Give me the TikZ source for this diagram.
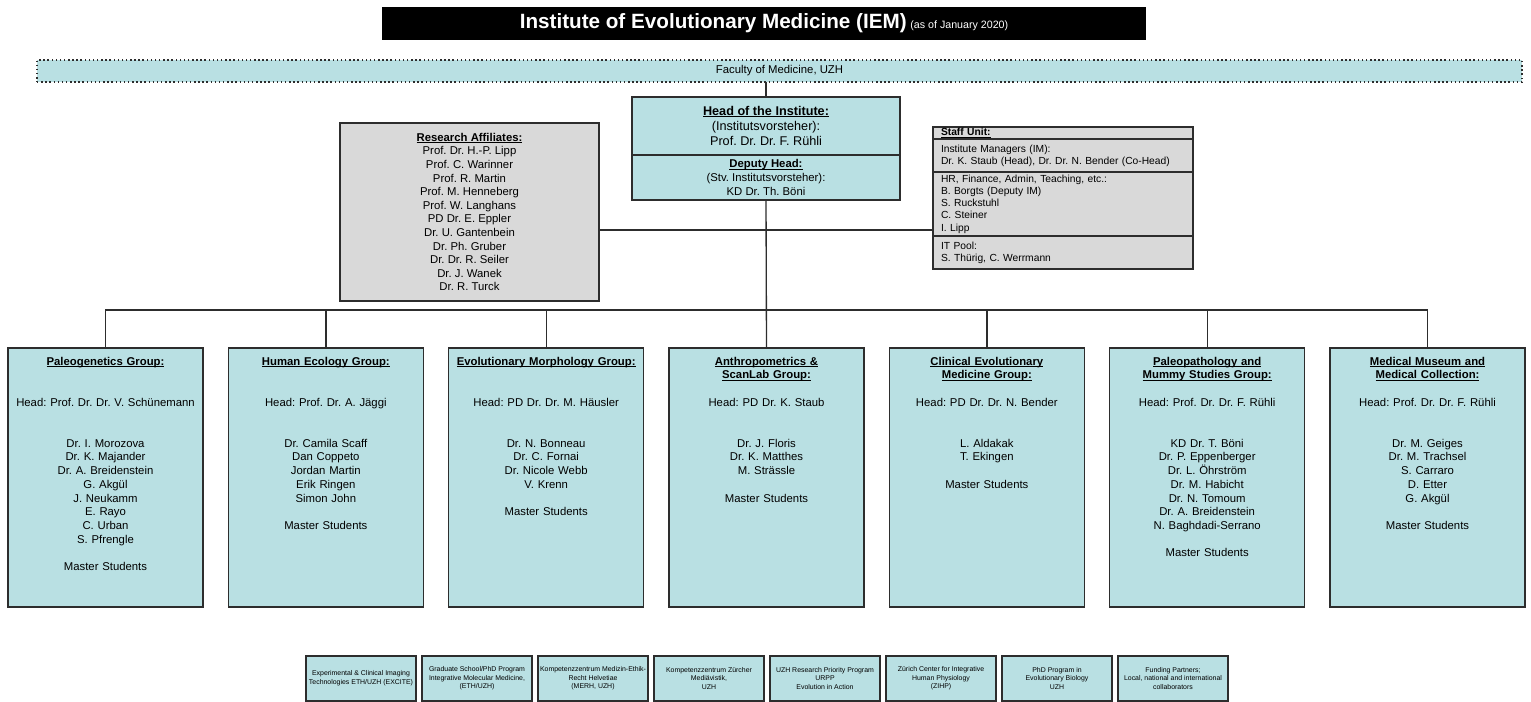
\documentclass[tikz,border=0pt]{standalone}
\usepackage{fontspec}
\setmainfont{Liberation Sans}
\usepackage{xcolor}
\usetikzlibrary{positioning}
\definecolor{iemteal}{RGB}{185,224,227}
\definecolor{iemgray}{RGB}{217,217,217}
\definecolor{iemline}{RGB}{45,45,45}
\newcommand{\grouptitle}[1]{\textbf{\sbox0{#1}\rlap{\rule[-1.2pt]{\wd0}{0.55pt}}\usebox0}}
\frenchspacing

\begin{document}
\begin{tikzpicture}[
    x=0.75pt, y=-0.75pt,
    orgbox/.style={rectangle, draw=iemline, line width=1.1pt, fill=iemteal, inner sep=0pt, outer sep=0pt, align=center},
    grpbox/.style={orgbox, anchor=north west, text width=146.25pt, text height=12.75pt, text depth=181.5pt, font=\fontsize{8.5}{10.28}\selectfont},
    partnerbox/.style={orgbox, line width=0.9pt, minimum width=82.5pt, minimum height=33.75pt, font=\fontsize{5.2}{6.5}\selectfont},
    staffbox/.style={orgbox, fill=iemgray, text width=183pt, inner xsep=6pt, align=left, minimum height=#1, font=\fontsize{7.7}{9.2}\selectfont},
    link/.style={draw=iemline, line width=1pt}
]
\useasboundingbox (0,0) rectangle (1531,702);

\node[fill=black, text=white, minimum width=573pt, minimum height=24.75pt, inner sep=0pt] (title) at (764,23.5)
    {{\fontsize{15.5}{18}\selectfont\bfseries Institute of Evolutionary Medicine (IEM)} {\fontsize{8}{9}\selectfont (as of January 2020)}};
\node[orgbox, dotted, line width=0.9pt, minimum width=1113.75pt, minimum height=16.5pt, font=\fontsize{8.5}{10}\selectfont] (faculty) at (779.5,71) {Faculty of Medicine, UZH};

\node[orgbox, minimum width=201pt, minimum height=43.5pt, font=\fontsize{9.5}{11.3}\selectfont] (head) at (766,126)
    {\grouptitle{Head of the Institute:}\\(Institutsvorsteher):\\Prof. Dr. Dr. F. Rühli};
\node[orgbox, below=0pt of head, minimum width=201pt, minimum height=33.75pt, font=\fontsize{8.5}{10.2}\selectfont] (deputy)
    {\grouptitle{Deputy Head:}\\(Stv. Institutsvorsteher):\\KD Dr. Th. Böni};

\node[orgbox, fill=iemgray, minimum width=194.25pt, minimum height=133.5pt, font=\fontsize{8.5}{10.2}\selectfont] (affil) at (469.5,212)
    {\grouptitle{Research Affiliates:}\\Prof. Dr. H.-P. Lipp\\Prof. C. Warinner\\Prof. R. Martin\\Prof. M. Henneberg\\Prof. W. Langhans\\PD Dr. E. Eppler\\Dr. U. Gantenbein\\Dr. Ph. Gruber\\Dr. Dr. R. Seiler\\Dr. J. Wanek\\Dr. R. Turck};

\node[staffbox=9pt] (suhead) at (1063,133) {\grouptitle{Staff Unit:}};
\node[staffbox=24.75pt, below=0pt of suhead] (sumanagers) {Institute Managers (IM):\\Dr. K. Staub (Head), Dr. Dr. N. Bender (Co-Head)};
\node[staffbox=48pt, below=0pt of sumanagers] (suadmin) {HR, Finance, Admin, Teaching, etc.:\\B. Borgts (Deputy IM)\\S. Ruckstuhl\\C. Steiner\\I. Lipp};
\node[staffbox=24.75pt, below=0pt of suadmin] (suit) {IT Pool:\\S. Thürig, C. Werrmann};

\node[grpbox] (paleogen) at (8,348)
    {\grouptitle{Paleogenetics Group:}\\[2\baselineskip]Head: Prof. Dr. Dr. V. Schünemann\\[2\baselineskip]Dr. I. Morozova\\Dr. K. Majander\\Dr. A. Breidenstein\\G. Akgül\\J. Neukamm\\E. Rayo\\C. Urban\\S. Pfrengle\\[\baselineskip]Master Students};
\node[grpbox, right=19pt of paleogen] (humaneco)
    {\grouptitle{Human Ecology Group:}\\[2\baselineskip]Head: Prof. Dr. A. Jäggi\\[2\baselineskip]Dr. Camila Scaff\\Dan Coppeto\\Jordan Martin\\Erik Ringen\\Simon John\\[\baselineskip]Master Students};
\node[grpbox, right=19pt of humaneco] (evomorph)
    {\grouptitle{Evolutionary Morphology Group:}\\[2\baselineskip]Head: PD Dr. Dr. M. Häusler\\[2\baselineskip]Dr. N. Bonneau\\Dr. C. Fornai\\Dr. Nicole Webb\\V. Krenn\\[\baselineskip]Master Students};
\node[grpbox, right=19pt of evomorph] (anthro)
    {\grouptitle{Anthropometrics \&}\\\grouptitle{ScanLab Group:}\\[\baselineskip]Head: PD Dr. K. Staub\\[2\baselineskip]Dr. J. Floris\\Dr. K. Matthes\\M. Strässle\\[\baselineskip]Master Students};
\node[grpbox, right=19pt of anthro] (clinical)
    {\grouptitle{Clinical Evolutionary}\\\grouptitle{Medicine Group:}\\[\baselineskip]Head: PD Dr. Dr. N. Bender\\[2\baselineskip]L. Aldakak\\T. Ekingen\\[\baselineskip]Master Students};
\node[grpbox, right=19pt of clinical] (paleopath)
    {\grouptitle{Paleopathology and}\\\grouptitle{Mummy Studies Group:}\\[\baselineskip]Head: Prof. Dr. Dr. F. Rühli\\[2\baselineskip]KD Dr. T. Böni\\Dr. P. Eppenberger\\Dr. L. Öhrström\\Dr. M. Habicht\\Dr. N. Tomoum\\Dr. A. Breidenstein\\N. Baghdadi-Serrano\\[\baselineskip]Master Students};
\node[grpbox, right=19pt of paleopath] (museum)
    {\grouptitle{Medical Museum and}\\\grouptitle{Medical Collection:}\\[\baselineskip]Head: Prof. Dr. Dr. F. Rühli\\[2\baselineskip]Dr. M. Geiges\\Dr. M. Trachsel\\S. Carraro\\D. Etter\\G. Akgül\\[\baselineskip]Master Students};

\node[partnerbox] (excite) at (361,678.5) {Experimental \& Clinical Imaging\\Technologies ETH/UZH (EXCITE)};
\node[partnerbox, right=4.5pt of excite] (gradschool) {Graduate School/PhD Program\\Integrative Molecular Medicine,\\(ETH/UZH)};
\node[partnerbox, right=4.5pt of gradschool] (merh) {Kompetenzzentrum Medizin-Ethik-\\Recht Helvetiae\\(MERH, UZH)};
\node[partnerbox, right=4.5pt of merh] (mediaev) {Kompetenzzentrum Zürcher\\Mediävistik,\\UZH};
\node[partnerbox, right=4.5pt of mediaev] (urpp) {UZH Research Priority Program\\URPP\\Evolution in Action};
\node[partnerbox, right=4.5pt of urpp] (zihp) {Zürich Center for Integrative\\Human Physiology\\(ZIHP)};
\node[partnerbox, right=4.5pt of zihp] (phdevo) {PhD Program in\\Evolutionary Biology\\UZH};
\node[partnerbox, right=4.5pt of phdevo] (funding) {Funding Partners;\\Local, national and international\\collaborators};

\coordinate (staffjoin) at (766,230);
\coordinate (bus) at (766,310);
\draw[link] (head.north) -- (head.north |- faculty.south);
\draw[link] (deputy.south) -- (anthro.north);
\draw[link] (affil.east |- staffjoin) -- (suadmin.west |- staffjoin);
\draw[link] (paleogen.north) |- (bus) -| (museum.north);
\draw[link] (humaneco.north) -- (humaneco.north |- bus);
\draw[link] (evomorph.north) -- (evomorph.north |- bus);
\draw[link] (clinical.north) -- (clinical.north |- bus);
\draw[link] (paleopath.north) -- (paleopath.north |- bus);
\end{tikzpicture}
\end{document}
